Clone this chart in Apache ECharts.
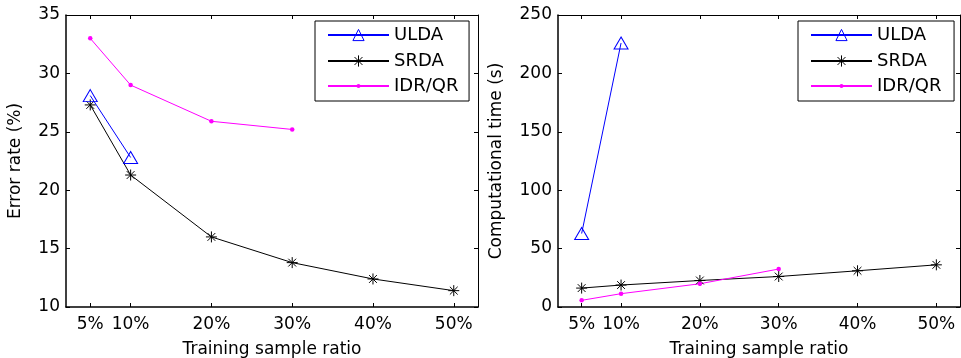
<!DOCTYPE html>
<html><head><meta charset="utf-8">
<script src="https://cdn.jsdelivr.net/npm/echarts@6.0.0/dist/echarts.min.js"></script>
<style>html,body{margin:0;padding:0;background:#fff}#c{width:961px;height:358px}</style>
</head><body><div id="c"></div>
<script>
// ---- data ----
const ratios = [5, 10, 20, 30, 40, 50];
const xTickLabels = ['5%', '10%', '20%', '30%', '40%', '50%'];
const errTicks = [10, 15, 20, 25, 30, 35];
const timeTicks = [0, 50, 100, 150, 200, 250];
const errULDA = [28.1, 22.8];
const errSRDA = [27.3, 21.3, 16.0, 13.8, 12.4, 11.4];
const errIDRQR = [33.0, 29.0, 25.9, 25.2];
const timeULDA = [62.9, 226];
const timeSRDA = [16.2, 18.8, 22.7, 26.1, 31.0, 36.1];
const timeIDRQR = [5.7, 11.4, 19.9, 32.5];
const seriesNames = ['ULDA', 'SRDA', 'IDR/QR'];

// ---- styling ----
const FONT = 'DejaVu Sans';
const ASTERISK = 'path://M5 0L5 10M0 5L10 5M1.46 1.46L8.54 8.54M8.54 1.46L1.46 8.54';
const styles = {
  'ULDA': { symbol: 'triangle', symbolSize: [14, 12], itemStyle: { color: 'none', borderColor: '#0000ff', borderWidth: 1 }, lineStyle: { color: '#0000ff', width: 1 } },
  'SRDA': { symbol: ASTERISK, symbolSize: 11, itemStyle: { color: '#000', borderColor: '#000', borderWidth: 1 }, lineStyle: { color: '#000', width: 1 } },
  'IDR/QR': { symbol: 'circle', symbolSize: 4.5, itemStyle: { color: '#ff00ff', borderWidth: 0 }, lineStyle: { color: '#ff00ff', width: 1 } }
};

function pairs(ys) { return ys.map((y, i) => [ratios[i], y]); }
function series(name, ys, idx) {
  const s = styles[name];
  return {
    type: 'line', name: name, xAxisIndex: idx * 2, yAxisIndex: idx * 2,
    data: pairs(ys), symbol: s.symbol, symbolSize: s.symbolSize, showAllSymbol: true,
    itemStyle: s.itemStyle, lineStyle: s.lineStyle, silent: true, animation: false,
    emphasis: { disabled: true }, z: name === 'ULDA' ? 3 : 2
  };
}
const tickLabelMap = {};
ratios.forEach((r, i) => tickLabelMap[r] = xTickLabels[i]);

function xAxes(gi) {
  const common = { type: 'value', gridIndex: gi, min: 2, max: 53, splitLine: { show: false } };
  return [
    Object.assign({}, common, {
      position: 'bottom',
      axisLine: { onZero: false, lineStyle: { color: '#000', width: 1.5 } },
      axisTick: { inside: true, length: 4, customValues: ratios, lineStyle: { color: '#000' } },
      axisLabel: { customValues: ratios, formatter: v => tickLabelMap[v], color: '#000', fontFamily: FONT, fontSize: 17, margin: 9 },
      name: 'Training sample ratio', nameLocation: 'middle', nameGap: 34,
      nameTextStyle: { color: '#000', fontFamily: FONT, fontSize: 17 }
    }),
    Object.assign({}, common, {
      position: 'top',
      axisLine: { onZero: false, lineStyle: { color: '#000', width: 1 } },
      axisTick: { inside: true, length: 4, customValues: ratios, lineStyle: { color: '#000' } },
      axisLabel: { show: false }
    })
  ];
}
function yAxes(gi, ticks, name, gap) {
  const common = { type: 'value', gridIndex: gi, min: ticks[0], max: ticks[ticks.length - 1], interval: ticks[1] - ticks[0], splitLine: { show: false } };
  return [
    Object.assign({}, common, {
      position: 'left',
      axisLine: { show: true, onZero: false, lineStyle: { color: '#000', width: 1.5 } },
      axisTick: { show: true, inside: true, length: 4, customValues: ticks, lineStyle: { color: '#000' } },
      axisLabel: { customValues: ticks, color: '#000', fontFamily: FONT, fontSize: 17, margin: 6 },
      name: name, nameLocation: 'middle', nameGap: gap,
      nameTextStyle: { color: '#000', fontFamily: FONT, fontSize: 17 }
    }),
    Object.assign({}, common, {
      position: 'right',
      axisLine: { show: true, onZero: false, lineStyle: { color: '#000', width: 1 } },
      axisTick: { show: true, inside: true, length: 4, customValues: ticks, lineStyle: { color: '#000' } },
      axisLabel: { show: false }
    })
  ];
}

function legends(boxLeft, padRight) {
  const base = { orient: 'vertical', itemWidth: 61, selectedMode: false,
    textStyle: { color: '#000', fontFamily: FONT, fontSize: 18 },
    itemStyle: { borderWidth: 1 } };
  return [
    Object.assign({}, base, { data: [{ name: 'ULDA' }], left: boxLeft, top: 21, itemHeight: 14,
      padding: [5, padRight, 57, 12], borderColor: '#000', borderWidth: 1 }),
    Object.assign({}, base, { data: [{ name: 'SRDA' }], left: boxLeft + 12, top: 52, itemHeight: 14, padding: 0 }),
    Object.assign({}, base, { data: [{ name: 'IDR/QR', lineStyle: { width: 2 } }], left: boxLeft + 12, top: 77, itemHeight: 5, padding: 0 })
  ];
}

const option = {
  animation: false,
  backgroundColor: '#fff',
  grid: [
    { left: 66, top: 15, width: 412, height: 292, outerBoundsMode: 'none' },
    { left: 558, top: 15, width: 402, height: 292, outerBoundsMode: 'none' }
  ],
  xAxis: xAxes(0).concat(xAxes(1)),
  yAxis: yAxes(0, errTicks, 'Error rate (%)', 42).concat(yAxes(1, timeTicks, 'Computational time (s)', 53)),
  legend: legends(315, 26).concat(legends(798, 28)),
  series: [
    series('ULDA', errULDA, 0), series('SRDA', errSRDA, 0), series('IDR/QR', errIDRQR, 0),
    series('ULDA', timeULDA, 1), series('SRDA', timeSRDA, 1), series('IDR/QR', timeIDRQR, 1)
  ]
};
const chart = echarts.init(document.getElementById('c'), null, { renderer: 'canvas' });
chart.setOption(option);
</script></body></html>
